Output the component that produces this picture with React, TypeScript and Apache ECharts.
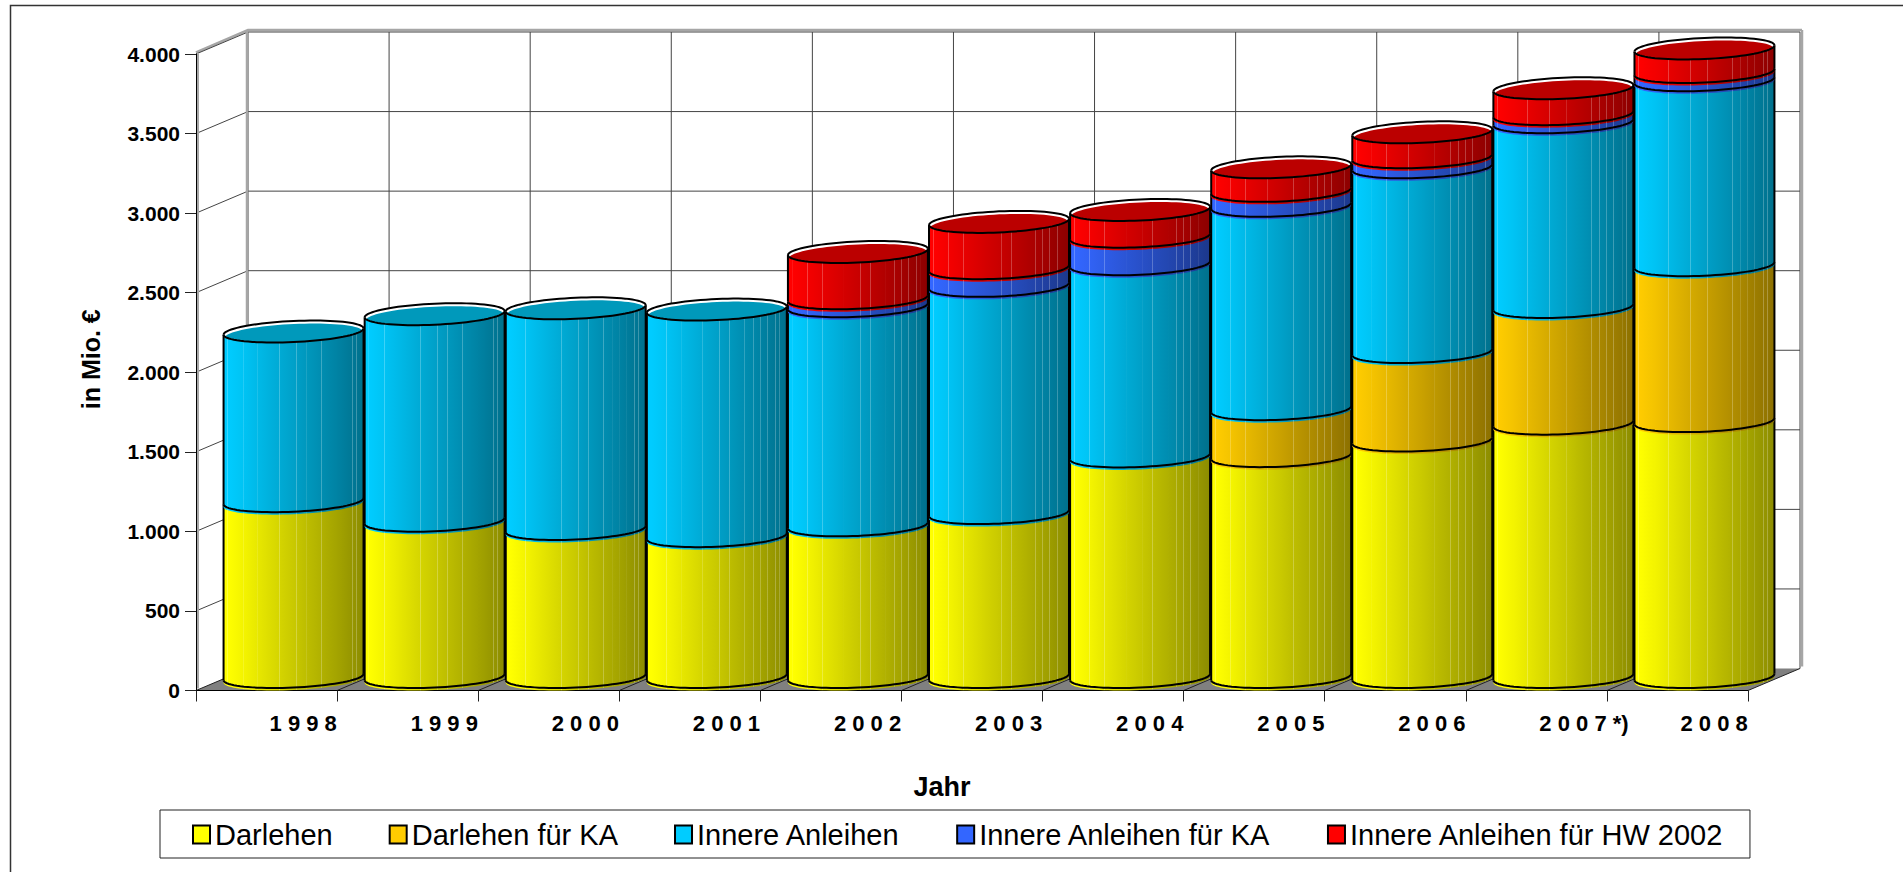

import React, { useEffect, useRef } from "react";
import * as echarts from "echarts";

const years = ["1 9 9 8","1 9 9 9","2 0 0 0","2 0 0 1","2 0 0 2","2 0 0 3","2 0 0 4","2 0 0 5","2 0 0 6","2 0 0 7 *)","2 0 0 8"];
const yTickValues = [0,500,1000,1500,2000,2500,3000,3500,4000];
const yTickLabels = ["0","500","1.000","1.500","2.000","2.500","3.000","3.500","4.000"];

const darlehen = [1105,982,930,885,953,1030,1386,1388,1486,1592,1608];
const darlehenKA = [0,0,0,0,0,0,0,295,556,733,980];
const innere = [1066,1298,1387,1424,1377,1428,1208,1278,1161,1161,1162];
const innereKA = [0,0,0,0,50,111,173,94,63,51,52];
const innereHW = [0,0,0,0,291,291,168,148,157,163,148];

const seriesDefs = [
  { name: "Darlehen", values: darlehen, rgb: [255,255,0], cap: "#BBBB00" },
  { name: "Darlehen für KA", values: darlehenKA, rgb: [255,204,0], cap: "#BB9500" },
  { name: "Innere Anleihen", values: innere, rgb: [0,204,255], cap: "#0099BB" },
  { name: "Innere Anleihen für KA", values: innereKA, rgb: [51,102,255], cap: "#2244BB" },
  { name: "Innere Anleihen für HW 2002", values: innereHW, rgb: [255,0,0], cap: "#BB0000" },
];

const FONT = "Liberation Sans, Arial, sans-serif";
const DEPTH_X = 52, DEPTH_Y = 22;       // oblique wall depth
const CYL_DX = 27, CYL_DY = 13.5;       // cylinder centre relative to the front plane
const STREAKS = [0.03,0.14,0.245,0.40,0.52,0.59,0.70,0.76,0.81,0.86,0.92,0.95];

function gradient(rgb: number[]) {
  const shade = (t: number, light = 0) => {
    const f = t < 0.05 ? 1 : 1 - 0.45 * (t - 0.05) / 0.95;
    const c = rgb.map((v) => Math.round(v * f + (255 - v * f) * light));
    return `rgb(${c[0]},${c[1]},${c[2]})`;
  };
  const stops: any[] = [{ offset: 0, color: shade(0) }];
  for (const s of STREAKS) {
    stops.push({ offset: s - 0.003, color: shade(s - 0.003) });
    stops.push({ offset: s - 0.002, color: shade(s, 0.24) });
    stops.push({ offset: s + 0.002, color: shade(s, 0.24) });
    stops.push({ offset: s + 0.003, color: shade(s + 0.003) });
  }
  stops.push({ offset: 1, color: shade(1) });
  return new echarts.graphic.LinearGradient(0, 0, 1, 0, stops);
}

function ring(cx: number, cy: number, band: number, from: number, to: number, n = 40) {
  const half = band * 0.496;
  const vx = 20, ux = Math.sqrt(half * half - vx * vx), vy = 11;
  const pts: number[][] = [];
  for (let i = 0; i <= n; i++) {
    const th = from + (to - from) * i / n;
    pts.push([cx + ux * Math.cos(th) + vx * Math.sin(th), cy - vy * Math.sin(th)]);
  }
  return pts;
}
function angles(band: number) {
  const half = band * 0.496;
  const a = Math.atan(20 / Math.sqrt(half * half - 400));
  return { right: a, left: Math.PI + a };
}

function cylinderItem(seriesIndex: number, rgb: number[], cap: string, fill: any) {
  return (_p: any, api: any) => {
    const idx = api.value(0), base = api.value(1), top = api.value(2), isTop = api.value(3);
    const band = api.size([1, 0])[0];
    const pb = api.coord([idx, base]);
    const pt = api.coord([idx, top]);
    const cx = pb[0] + CYL_DX;
    const yb = pb[1] - CYL_DY, yt = pt[1] - CYL_DY;
    const { left, right } = angles(band);
    const frontTop = ring(cx, yt, band, left, 2 * Math.PI + right);
    const frontBotFill = ring(cx, yb + 2.5, band, left, 2 * Math.PI + right);
    const frontBot = ring(cx, yb, band, left, 2 * Math.PI + right);
    const z0 = idx * 100 + seriesIndex * 10;
    const black = { stroke: "#000", lineWidth: 2, fill: "none" };
    const kids: any[] = [
      { type: "polygon", z2: z0, shape: { points: frontTop.concat(frontBotFill.slice().reverse()) }, style: { fill } },
      { type: "polyline", z2: z0 + 1, shape: { points: frontBot }, style: black },
      { type: "polyline", z2: z0 + 1, shape: { points: [frontTop[0], frontBot[0]] }, style: black },
      { type: "polyline", z2: z0 + 1, shape: { points: [frontTop[40], frontBot[40]] }, style: black },
    ];
    if (isTop) {
      const back = ring(cx, yt, band, right, left);
      const backInner = ring(cx, yt + 3, band * 0.985, right, left);
      kids.push(
        { type: "polygon", z2: z0 + 2, shape: { points: back.concat(frontTop) }, style: { fill: "#fff" } },
        { type: "polygon", z2: z0 + 3, shape: { points: backInner.concat(frontTop) }, style: { fill: cap } },
        { type: "polyline", z2: z0 + 4, shape: { points: back }, style: black },
        { type: "polyline", z2: z0 + 4, shape: { points: frontTop }, style: black },
      );
    }
    return { type: "group", children: kids };
  };
}

function stackedData(i: number) {
  return years.map((_, k) => {
    let base = 0;
    for (let s = 0; s < i; s++) base += seriesDefs[s].values[k];
    const top = base + seriesDefs[i].values[k];
    let above = 0;
    for (let s = i + 1; s < seriesDefs.length; s++) above += seriesDefs[s].values[k];
    return [k, base, top, above === 0 ? 1 : 0];
  }).filter((d) => d[2] > d[1]);
}

export default function App() {
  const ref = useRef<HTMLDivElement>(null);
  useEffect(() => {
    document.body.style.margin = "0";
    document.body.style.overflow = "hidden";
    const chart = echarts.init(ref.current!, undefined, { renderer: "svg" });
    const last = years.length - 1;

    const hLines = {
      type: "custom", name: "wallH", z: 1, silent: true,
      data: yTickValues.map((v) => [0, v]),
      encode: { x: 0, y: 1 },
      renderItem: (_p: any, api: any) => {
        const band = api.size([1, 0])[0];
        const v = api.value(1);
        const a = api.coord([0, v]), b = api.coord([last, v]);
        const x0 = a[0] - band / 2, y = a[1], x1 = b[0] + band / 2;
        const kids: any[] = [];
        if (v === 4000) kids.push({ type: "polyline", shape: { points: [[x0, y - 1.5], [x0 + DEPTH_X, y - DEPTH_Y - 2], [x1 + DEPTH_X + 2, y - DEPTH_Y - 2]] }, style: { stroke: "#a6a6a6", lineWidth: 2.5, fill: "none" } });
        if (v > 0) kids.push({ type: "polyline", shape: { points: [[x0, y], [x0 + DEPTH_X, y - DEPTH_Y], [x1 + DEPTH_X, y - DEPTH_Y]] }, style: { stroke: "#444", lineWidth: 1, fill: "none" } });
        return { type: "group", children: kids };
      },
    };
    const vLines = {
      type: "custom", name: "wallV", z: 1, silent: true,
      data: [...years.map((_, k) => [k, -0.5]), [last, 0.5]],
      encode: { x: 0 },
      renderItem: (_p: any, api: any) => {
        const band = api.size([1, 0])[0];
        const k = api.value(0), off = api.value(1);
        const t = api.coord([k, 4000]), bt = api.coord([k, 0]);
        const x = t[0] + off * band;
        const isEnd = off > 0, isStart = k === 0;
        const kids: any[] = [
          { type: "line", shape: { x1: x + DEPTH_X, y1: t[1] - DEPTH_Y, x2: x + DEPTH_X, y2: bt[1] - DEPTH_Y }, style: { stroke: "#444", lineWidth: 1 } },
          { type: "line", shape: { x1: x, y1: bt[1], x2: x + DEPTH_X, y2: bt[1] - DEPTH_Y }, style: { stroke: "#222", lineWidth: 1 }, z2: 5 },
        ];
        if (isEnd || isStart) {
          const dx = isEnd ? 2 : -1;
          kids.push({ type: "line", shape: { x1: x + DEPTH_X + dx, y1: t[1] - DEPTH_Y - 2, x2: x + DEPTH_X + dx, y2: bt[1] - DEPTH_Y - 2 }, style: { stroke: "#a6a6a6", lineWidth: 2.5 } });
        }
        if (isStart) kids.push({ type: "line", shape: { x1: x + 2, y1: t[1] - 1, x2: x + 2, y2: bt[1] - 2 }, style: { stroke: "#a6a6a6", lineWidth: 2 } });
        return { type: "group", children: kids };
      },
    };
    const floor = {
      type: "custom", name: "floor", z: 1, silent: true,
      data: [[0, 0]],
      encode: { x: 0, y: 1 },
      renderItem: (_p: any, api: any) => {
        const band = api.size([1, 0])[0];
        const a = api.coord([0, 0]), b = api.coord([last, 0]);
        const x0 = a[0] - band / 2, x1 = b[0] + band / 2, y = a[1];
        return {
          type: "polygon", z2: 2,
          shape: { points: [[x0, y], [x1, y], [x1 + DEPTH_X, y - DEPTH_Y], [x0 + DEPTH_X, y - DEPTH_Y]] },
          style: { fill: "#808080" },
        };
      },
    };

    const cylinders = seriesDefs.map((s, i) => ({
      type: "custom",
      name: s.name,
      z: 5,
      data: stackedData(i),
      encode: { x: 0, y: [1, 2] },
      itemStyle: { color: `rgb(${s.rgb.join(",")})` },
      renderItem: cylinderItem(i, s.rgb, s.cap, gradient(s.rgb)),
    }));

    chart.setOption({
      animation: false,
      backgroundColor: "#fff",
      textStyle: { fontFamily: FONT },
      grid: { left: 196, top: 54, width: 1552, height: 636.5, containLabel: false },
      graphic: [{
        type: "polyline", silent: true,
        shape: { points: [[10.5, 872], [10.5, 5.5], [1903, 5.5]] },
        style: { stroke: "#333", lineWidth: 1.5, fill: "none" },
      }],
      legend: {
        left: 160, top: 810,
        padding: [10, 26, 9, 32],
        borderColor: "#222", borderWidth: 1,
        itemWidth: 17, itemHeight: 18, itemGap: 56,
        icon: "rect",
        selectedMode: false,
        itemStyle: { borderColor: "#000", borderWidth: 2 },
        textStyle: { fontFamily: FONT, fontSize: 29, color: "#000", padding: [4, 0, 0, 0] },
        data: seriesDefs.map((s) => s.name),
      },
      xAxis: {
        type: "category",
        data: years,
        z: 3,
        name: "Jahr",
        nameLocation: "middle",
        nameGap: 83,
        nameTextStyle: { fontFamily: FONT, fontWeight: "bold", fontSize: 27, color: "#000", padding: [0, 60, 0, 0] },
        axisLine: { lineStyle: { color: "#000", width: 1 } },
        axisTick: { show: true, length: 11, alignWithLabel: false, lineStyle: { color: "#222", width: 1 } },
        axisLabel: { interval: 0, margin: 22, align: "left", padding: [0, 0, 0, 3], fontFamily: FONT, fontWeight: "bold", fontSize: 22, color: "#000" },
        splitLine: { show: false },
      },
      yAxis: {
        type: "value",
        min: 0, max: 4000, interval: 500,
        z: 3,
        name: "in Mio. €",
        nameLocation: "middle",
        nameRotate: 90,
        nameGap: 93,
        nameTextStyle: { fontFamily: FONT, fontWeight: "bold", fontSize: 25, color: "#000", padding: [0, 0, 0, 26] },
        axisLine: { show: true, lineStyle: { color: "#000", width: 1 } },
        axisTick: { show: true, length: 11, lineStyle: { color: "#222", width: 1 } },
        axisLabel: {
          margin: 16, fontFamily: FONT, fontWeight: "bold", fontSize: 21, color: "#000",
          formatter: (v: number) => yTickLabels[yTickValues.indexOf(v)],
        },
        splitLine: { show: false },
      },
      series: [floor, hLines, vLines, ...cylinders],
    });
    return () => chart.dispose();
  }, []);
  return <div ref={ref} style={{ position: "absolute", left: 0, top: 0, width: 1903, height: 872 }} />;
}
